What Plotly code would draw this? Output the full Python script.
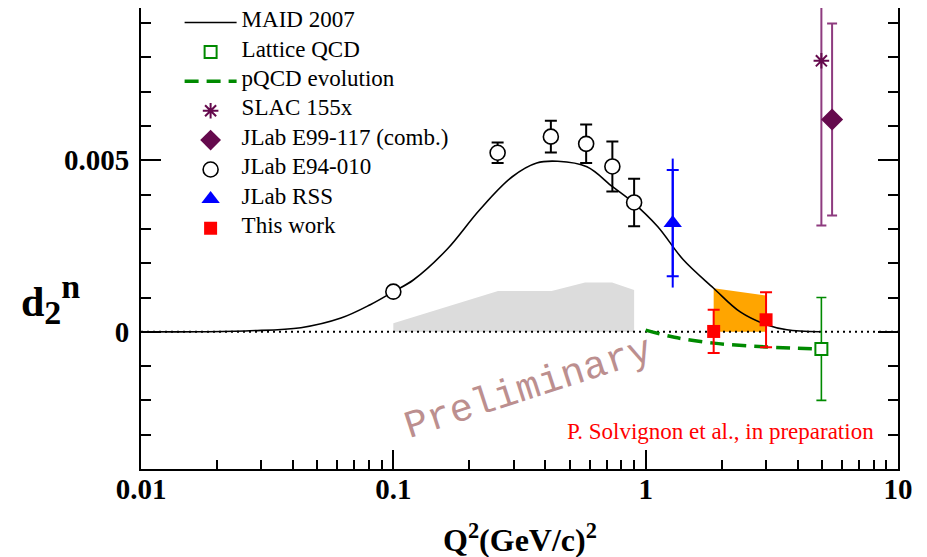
import plotly.graph_objects as go

# MAID 2007 curve
maid_q2 = [0.01, 0.017, 0.027, 0.043, 0.062, 0.081, 0.10, 0.12, 0.163, 0.22, 0.296,
           0.37, 0.448, 0.585, 0.739, 0.894, 1.115, 1.41, 1.86, 2.37, 3.03, 3.63, 4.9]
maid_d2 = [0, 0, 0.00003, 0.00012, 0.0004, 0.00079, 0.00117, 0.00151, 0.0024, 0.00356, 0.00452,
           0.00492, 0.00497, 0.00481, 0.00423, 0.00376, 0.00307, 0.0021, 0.00127, 0.00058, 0.0002, 0.00006, 0.0]

# pQCD evolution
pqcd_q2 = [1.0, 1.3, 1.86, 3.0, 4.9]
pqcd_d2 = [0.00005, -0.00016, -0.00033, -0.00044, -0.0005]

# grey band (E94-010 systematics)
grey_q2 = [0.1, 0.26, 0.424, 0.575, 0.736, 0.9]
grey_top = [0.00025, 0.00119, 0.00119, 0.00144, 0.00144, 0.00122]

# orange band (this work systematics)
orange_q2 = [1.86, 3.0]
orange_top = [0.00127, 0.00106]

# data points
lat_q2, lat_d2, lat_err = [4.97], [-0.0005], [0.0015]
slac_q2, slac_d2, slac_up, slac_dn = [4.97], [0.0079], [0.006], [0.0048]
e99_q2, e99_d2, e99_err = [5.48], [0.00619], [0.0028]
e94_q2 = [0.1, 0.259, 0.421, 0.581, 0.738, 0.90]
e94_d2 = [0.00117, 0.00522, 0.00569, 0.00548, 0.00482, 0.00377]
e94_err = [0.0, 0.0003, 0.00046, 0.00056, 0.00073, 0.00069]
rss_q2, rss_d2, rss_stat, rss_tot = [1.28], [0.00317], [0.00155], [0.00188]
tw_q2 = [1.86, 3.0]
tw_d2 = [0.00001, 0.00035]
tw_err = [0.00063, 0.0008]

serif = "Liberation Serif"
purple = "#650a4d"
purple_bar = "#8e3b7f"
green = "#008a00"


def big(s):
    # legend rows are spaced with a small base font + group gap, text drawn at 23px
    return '<span style="font-size:23px">' + s + '</span>'


fig = go.Figure()

fig.add_trace(go.Scatter(x=grey_q2 + grey_q2[::-1], y=grey_top + [0] * len(grey_q2),
                         fill="toself", fillcolor="#dcdcdc", line=dict(width=0),
                         mode="lines", showlegend=False, hoverinfo="skip"))
fig.add_trace(go.Scatter(x=orange_q2 + orange_q2[::-1], y=orange_top + [0] * len(orange_q2),
                         fill="toself", fillcolor="#ffa500", line=dict(width=0),
                         mode="lines", showlegend=False, hoverinfo="skip"))
fig.add_trace(go.Scatter(x=[0.01, 10], y=[0, 0], mode="lines",
                         line=dict(color="black", width=2, dash="2px,4px"),
                         showlegend=False, hoverinfo="skip"))

fig.add_trace(go.Scatter(x=maid_q2, y=maid_d2, mode="lines", name=big("MAID 2007"),
                         line=dict(color="black", width=1.6, shape="spline"),
                         legendgroup="g1", legendrank=1))
fig.add_trace(go.Scatter(x=pqcd_q2, y=pqcd_d2, mode="lines", name=big("pQCD evolution"),
                         line=dict(color=green, width=3.5, dash="14px,8px", shape="spline"),
                         legendgroup="g3", legendrank=3))
fig.add_trace(go.Scatter(x=lat_q2, y=lat_d2, mode="markers", name=big("Lattice QCD"),
                         marker=dict(symbol="square", size=12, color="white",
                                     line=dict(color=green, width=2)),
                         error_y=dict(type="data", array=lat_err, color=green, thickness=1.6, width=5),
                         legendgroup="g2", legendrank=2))
fig.add_trace(go.Scatter(x=slac_q2, y=slac_d2, mode="markers", name=big("SLAC 155x"),
                         marker=dict(symbol="asterisk-open", size=13, color=purple,
                                     line=dict(color=purple, width=2)),
                         error_y=dict(type="data", symmetric=False, array=slac_up, arrayminus=slac_dn,
                                      color=purple_bar, thickness=2, width=5),
                         legendgroup="g4", legendrank=4))
fig.add_trace(go.Scatter(x=e99_q2, y=e99_d2, mode="markers", name=big("JLab E99-117 (comb.)"),
                         marker=dict(symbol="diamond", size=17, color=purple),
                         error_y=dict(type="data", array=e99_err, color=purple_bar, thickness=2, width=5),
                         legendgroup="g5", legendrank=5))
fig.add_trace(go.Scatter(x=e94_q2, y=e94_d2, mode="markers", name=big("JLab E94-010"),
                         marker=dict(symbol="circle", size=15, color="white",
                                     line=dict(color="black", width=1.6)),
                         error_y=dict(type="data", array=e94_err, color="black", thickness=2, width=6),
                         legendgroup="g6", legendrank=6))
fig.add_trace(go.Scatter(x=rss_q2, y=rss_d2, mode="markers", showlegend=False,
                         marker=dict(size=1, color="rgba(0,0,0,0)"), hoverinfo="skip",
                         error_y=dict(type="data", array=rss_tot, color="#0000ff", thickness=2, width=0)))
fig.add_trace(go.Scatter(x=rss_q2, y=rss_d2, mode="markers", name=big("JLab RSS"),
                         marker=dict(symbol="triangle-up", size=16, color="#0000ff"),
                         error_y=dict(type="data", array=rss_stat, color="#0000ff", thickness=2, width=6),
                         legendgroup="g7", legendrank=7))
fig.add_trace(go.Scatter(x=tw_q2, y=tw_d2, mode="markers", name=big("This work"),
                         marker=dict(symbol="square", size=13, color="#ff0000"),
                         error_y=dict(type="data", array=tw_err, color="#ff0000", thickness=2, width=6),
                         legendgroup="g8", legendrank=8))

# page body has an 8px margin, so the figure is 8px smaller than the window
fig.update_layout(
    width=919, height=549,
    margin=dict(l=133, r=29, t=0, b=88),
    plot_bgcolor="white", paper_bgcolor="white",
    font=dict(family=serif, color="black"),
    showlegend=True,
    legend=dict(x=0.051, y=1, xanchor="left", yanchor="top", bgcolor="rgba(0,0,0,0)",
                font=dict(family=serif, size=12), itemwidth=52, tracegroupgap=10.4,
                traceorder="grouped"),
    xaxis=dict(type="log", range=[-2, 1], showgrid=False, zeroline=False,
               showline=True, linecolor="black", linewidth=2,
               ticks="inside", ticklen=19, tickwidth=2, tickcolor="black",
               tickmode="array", tickvals=[0.01, 0.1, 1, 10], ticktext=["0.01", "0.1", "1", "10"],
               ticklabelstandoff=-7,
               tickfont=dict(family=serif, size=29, weight="bold"),
               minor=dict(ticks="inside", ticklen=9, tickwidth=1.5, tickcolor="black",
                          dtick="D1", showgrid=False)),
    yaxis=dict(range=[-0.004, 0.00944], showgrid=False, zeroline=False,
               showline=True, linecolor="black", linewidth=2, mirror="ticks",
               ticks="inside", ticklen=20, tickwidth=2, tickcolor="black",
               tickmode="array", tickvals=[0, 0.005], ticktext=["0", "0.005"],
               ticklabelstandoff=4,
               tickfont=dict(family=serif, size=29, weight="bold"),
               minor=dict(ticks="inside", ticklen=10, tickwidth=1.5, tickcolor="black",
                          tick0=0, dtick=0.001, showgrid=False)),
)

fig.add_annotation(text="<b>Q<sup>2</sup>(GeV/c)<sup>2</sup></b>", xref="paper", yref="paper",
                   x=0.5, y=-0.149, xanchor="center", yanchor="middle", showarrow=False,
                   font=dict(family=serif, size=32))
fig.add_annotation(text='<b>d<sub><span style="font-size:34px">2</span></sub>'
                        '<sup><span style="font-size:34px">n</span></sup></b>',
                   xref="paper", yref="paper",
                   x=-0.12, y=0.368, xanchor="center", yanchor="middle", showarrow=False,
                   font=dict(family=serif, size=42))
fig.add_annotation(text="Preliminary", xref="paper", yref="paper",
                   x=0.512, y=0.173, xanchor="center", yanchor="middle", showarrow=False,
                   textangle=-18, font=dict(family="Liberation Mono", size=39, color="#bc8f8f"))
fig.add_annotation(text="P. Solvignon et al., in preparation", xref="paper", yref="paper",
                   x=0.765, y=0.081, xanchor="center", yanchor="middle", showarrow=False,
                   font=dict(family=serif, size=23, color="#ff0000"))

fig.write_html("out.html")
